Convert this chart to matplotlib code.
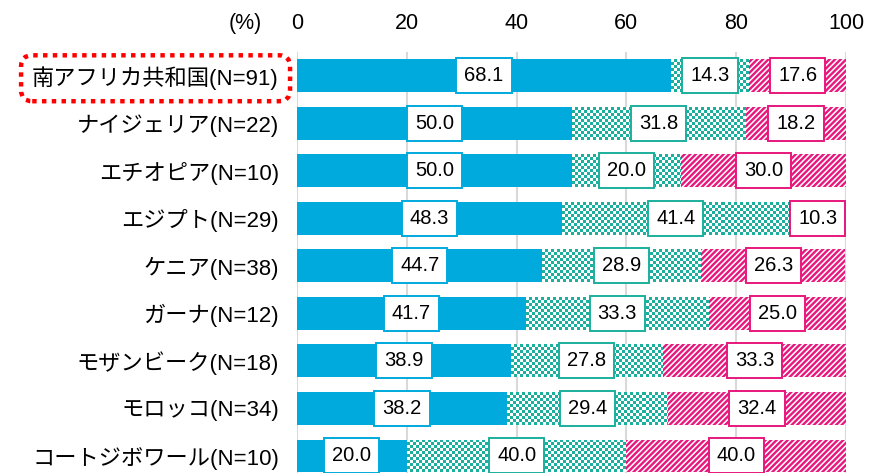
import numpy as np
import matplotlib
matplotlib.use('Agg')
import matplotlib.pyplot as plt
from matplotlib.colors import ListedColormap

plt.rcParams['font.family'] = ['Liberation Sans', 'Noto Sans CJK JP', 'DejaVu Sans']
plt.rcParams['hatch.linewidth'] = 1.7

countries = ['南アフリカ共和国(N=91)', 'ナイジェリア(N=22)', 'エチオピア(N=10)',
             'エジプト(N=29)', 'ケニア(N=38)', 'ガーナ(N=12)',
             'モザンビーク(N=18)', 'モロッコ(N=34)', 'コートジボワール(N=10)']
part1 = [68.1, 50.0, 50.0, 48.3, 44.7, 41.7, 38.9, 38.2, 20.0]
part2 = [14.3, 31.8, 20.0, 41.4, 28.9, 33.3, 27.8, 29.4, 40.0]
part3 = [17.6, 18.2, 30.0, 10.3, 26.3, 25.0, 33.3, 32.4, 40.0]
ticks = [0, 20, 40, 60, 80, 100]

blue = '#00AADD'
teal = '#1BB09D'
pink = '#E8177D'

fig = plt.figure(figsize=(8.69, 4.73), dpi=100)
ax = fig.add_axes([297 / 869, 0, 549 / 869, 421 / 473])

y = np.arange(len(countries))
h = 0.69

# solid blue part
ax.barh(y, part1, height=h, color=blue, zorder=2)

# checker part (teal / white), image clipped to each bar
left2 = np.array(part1)
bars2 = ax.barh(y, part2, left=left2, height=h, facecolor='none', edgecolor='none', zorder=2)
px_x = 549 / 100.0
px_y = 421 / 8.86
cell = 3.0
cm = ListedColormap(['white', teal])
for i, b in enumerate(bars2):
    x0 = left2[i]
    nx = int(np.ceil(part2[i] * px_x / cell))
    ny = int(np.ceil(h * px_y / cell))
    grid = (np.add.outer(np.arange(ny), np.arange(nx)) % 2).astype(float)
    im = ax.imshow(grid, cmap=cm, interpolation='nearest', aspect='auto',
                   extent=(x0, x0 + nx * cell / px_x, y[i] + h / 2, y[i] - h / 2),
                   zorder=2, vmin=0, vmax=1)
    im.set_clip_path(b)

# striped part
left3 = left2 + np.array(part2)
ax.barh(y, part3, left=left3, height=h, facecolor='white', edgecolor=pink,
        hatch='//////', linewidth=0, zorder=2)

ax.set_aspect('auto')
ax.set_xlim(0, 100)
ax.set_ylim(8.36, -0.5)

# value labels
for vals, lefts, col in [(part1, np.zeros(len(y)), blue), (part2, left2, teal), (part3, left3, pink)]:
    for i, v in enumerate(vals):
        ax.text(lefts[i] + v / 2, y[i], f'{v:.1f}', ha='center', va='center',
                fontsize=14.5, zorder=4,
                bbox=dict(boxstyle='square,pad=0.4', facecolor='white', edgecolor=col, linewidth=1.4))

ax.set_xticks(ticks)
ax.xaxis.tick_top()
ax.tick_params(axis='x', length=0, pad=13, labelsize=15.5)
ax.set_yticks(y)
ax.set_yticklabels(countries)
ax.tick_params(axis='y', length=0, pad=13, labelsize=16)
ax.grid(axis='x', color='#D9D9D9', linewidth=1.5, zorder=0)
ax.set_axisbelow(True)
for s in ax.spines.values():
    s.set_visible(False)

ax.text(-0.095, 1.0 + 13 / 421 * 1.39, '(%)', transform=ax.transAxes,
        ha='center', va='bottom', fontsize=15.5)

lab = ax.get_yticklabels()[0]
lab.set_bbox(dict(boxstyle='round,pad=0.5,rounding_size=0.5', facecolor='white',
                  edgecolor='#FF0000', linestyle=(0, (1, 1.2)), linewidth=3.2))

fig.savefig('out.png', dpi=100)
